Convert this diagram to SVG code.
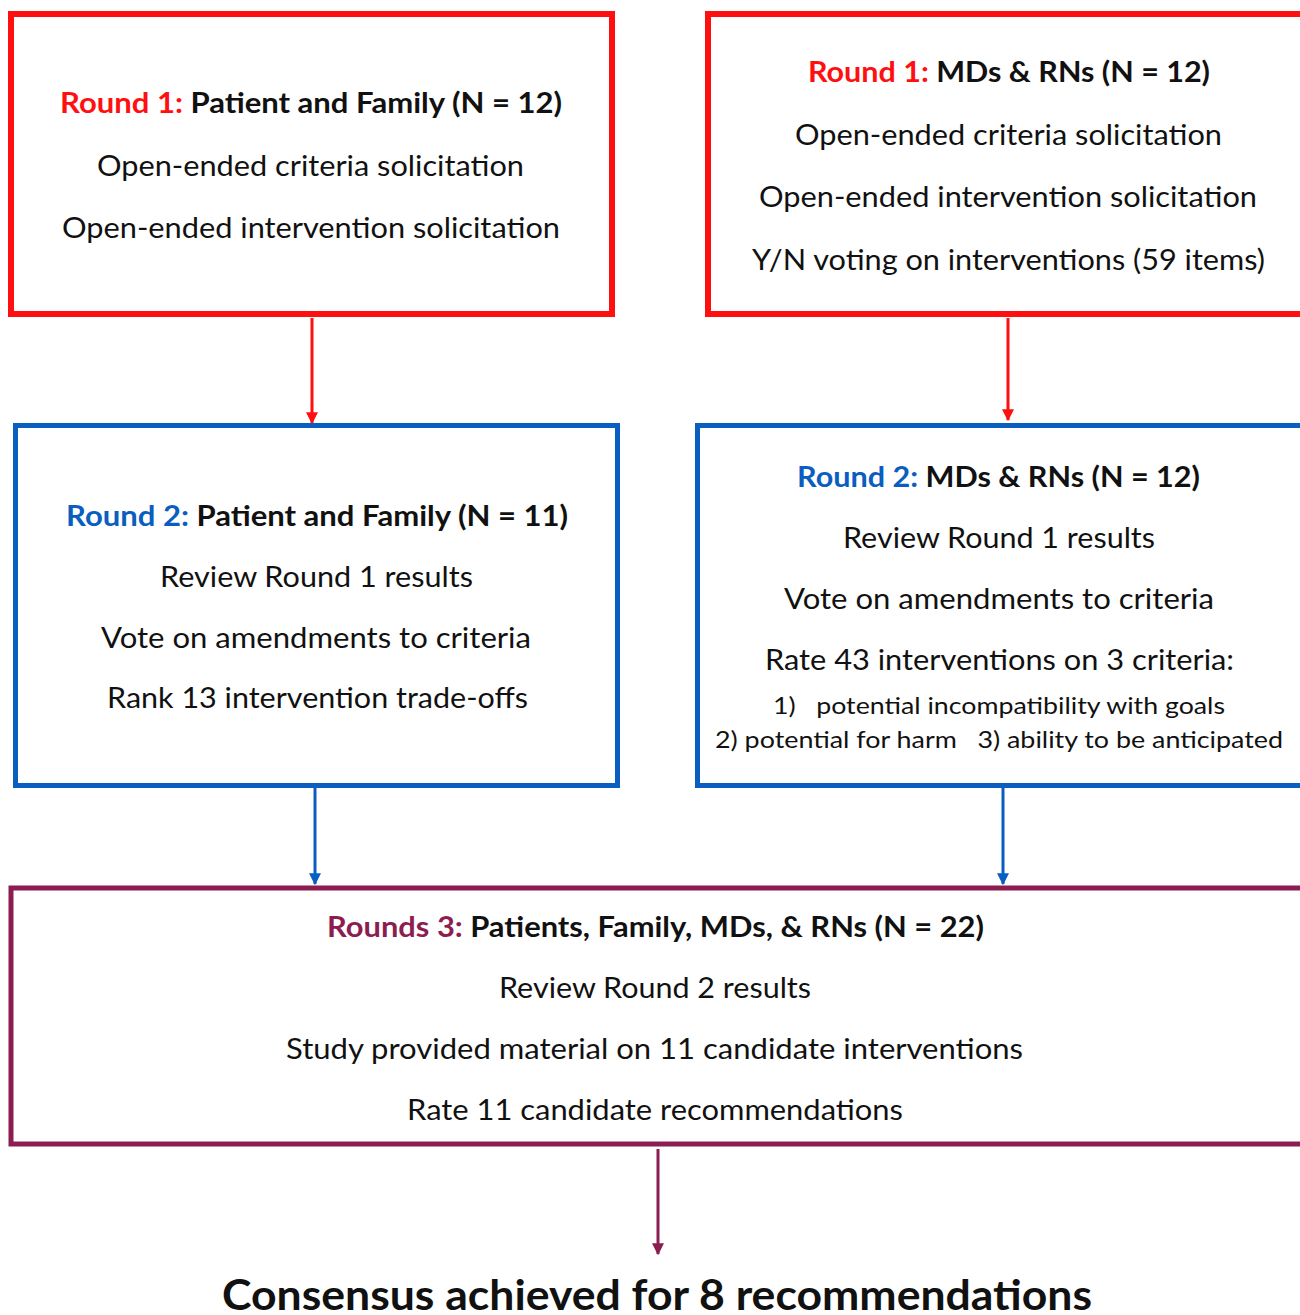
<svg xmlns="http://www.w3.org/2000/svg" width="1300" height="1315" viewBox="0 0 1300 1315">
<defs>
<style>
.t{font-family:Lato,"Open Sans","Liberation Sans",sans-serif;font-size:29px;fill:#111;text-anchor:middle}
.s{font-size:24px}
.b{font-weight:bold}
.red{fill:#FF1010}
.blu{fill:#0A5EC0}
.pur{fill:#8C1D50}
.box{fill:#fff}
</style>
<marker id="ar" viewBox="0 0 10 10" refX="9" refY="5" markerWidth="12" markerHeight="12" markerUnits="userSpaceOnUse" orient="auto"><path d="M0,0L10,5L0,10z" fill="#FF1010"/></marker>
<marker id="ab" viewBox="0 0 10 10" refX="9" refY="5" markerWidth="12" markerHeight="12" markerUnits="userSpaceOnUse" orient="auto"><path d="M0,0L10,5L0,10z" fill="#0A5EC0"/></marker>
<marker id="ap" viewBox="0 0 10 10" refX="9" refY="5" markerWidth="12" markerHeight="12" markerUnits="userSpaceOnUse" orient="auto"><path d="M0,0L10,5L0,10z" fill="#8C1D50"/></marker>
</defs>
<rect width="1300" height="1315" fill="#fff"/>
<g id="connectors">
<line x1="312" y1="318" x2="312" y2="423" stroke="#FF1010" stroke-width="3" marker-end="url(#ar)"/>
<line x1="1008" y1="318" x2="1008" y2="420" stroke="#FF1010" stroke-width="3" marker-end="url(#ar)"/>
<line x1="315" y1="788" x2="315" y2="884" stroke="#0A5EC0" stroke-width="3" marker-end="url(#ab)"/>
<line x1="1003" y1="788" x2="1003" y2="884" stroke="#0A5EC0" stroke-width="3" marker-end="url(#ab)"/>
<line x1="658" y1="1149" x2="658" y2="1254" stroke="#8C1D50" stroke-width="3" marker-end="url(#ap)"/>
</g>
<g id="r1pf">
<rect class="box" x="11" y="14" width="601" height="300" stroke="#FF1010" stroke-width="6"/>
<text class="t b" x="311" y="113" textLength="502" lengthAdjust="spacingAndGlyphs"><tspan class="red">Round 1:</tspan> Patient and Family (N = 12)</text>
<text class="t" x="310.5" y="176" textLength="427" lengthAdjust="spacingAndGlyphs">Open-ended criteria solicitation</text>
<text class="t" x="311" y="238" textLength="498" lengthAdjust="spacingAndGlyphs">Open-ended intervention solicitation</text>
</g>
<g id="r1md">
<rect class="box" x="708" y="14" width="620" height="300" stroke="#FF1010" stroke-width="6"/>
<text class="t b" x="1009" y="82" textLength="402" lengthAdjust="spacingAndGlyphs"><tspan class="red">Round 1:</tspan> MDs &amp; RNs (N = 12)</text>
<text class="t" x="1008.5" y="145" textLength="427" lengthAdjust="spacingAndGlyphs">Open-ended criteria solicitation</text>
<text class="t" x="1008" y="207" textLength="498" lengthAdjust="spacingAndGlyphs">Open-ended intervention solicitation</text>
<text class="t" x="1008.5" y="270" textLength="513" lengthAdjust="spacingAndGlyphs">Y/N voting on interventions (59 items)</text>
</g>
<g id="r2pf">
<rect class="box" x="15.5" y="425.5" width="602" height="360" stroke="#0A5EC0" stroke-width="5"/>
<text class="t b" x="317" y="526" textLength="502" lengthAdjust="spacingAndGlyphs"><tspan class="blu">Round 2:</tspan> Patient and Family (N = 11)</text>
<text class="t" x="316.5" y="587" textLength="313" lengthAdjust="spacingAndGlyphs">Review Round 1 results</text>
<text class="t" x="316" y="648" textLength="430" lengthAdjust="spacingAndGlyphs">Vote on amendments to criteria</text>
<text class="t" x="317.5" y="708" textLength="421" lengthAdjust="spacingAndGlyphs">Rank 13 intervention trade-offs</text>
</g>
<g id="r2md">
<rect class="box" x="697.5" y="425.5" width="630" height="360" stroke="#0A5EC0" stroke-width="5"/>
<text class="t b" x="998.5" y="487" textLength="403" lengthAdjust="spacingAndGlyphs"><tspan class="blu">Round 2:</tspan> MDs &amp; RNs (N = 12)</text>
<text class="t" x="999" y="548" textLength="312" lengthAdjust="spacingAndGlyphs">Review Round 1 results</text>
<text class="t" x="999" y="609" textLength="430" lengthAdjust="spacingAndGlyphs">Vote on amendments to criteria</text>
<text class="t" x="999.5" y="670" textLength="469" lengthAdjust="spacingAndGlyphs">Rate 43 interventions on 3 criteria:</text>
<text class="t s" x="999" y="714" textLength="452" lengthAdjust="spacingAndGlyphs" xml:space="preserve">1)   potential incompatibility with goals</text>
<text class="t s" x="999" y="748" textLength="568" lengthAdjust="spacingAndGlyphs" xml:space="preserve">2) potential for harm   3) ability to be anticipated</text>
</g>
<g id="r3">
<rect class="box" x="11" y="888" width="1320" height="256" stroke="#8C1D50" stroke-width="5"/>
<text class="t b" x="655.5" y="937" textLength="657" lengthAdjust="spacingAndGlyphs"><tspan class="pur">Rounds 3:</tspan> Patients, Family, MDs, &amp; RNs (N = 22)</text>
<text class="t" x="655" y="998" textLength="312" lengthAdjust="spacingAndGlyphs">Review Round 2 results</text>
<text class="t" x="654.5" y="1059" textLength="737" lengthAdjust="spacingAndGlyphs">Study provided material on 11 candidate interventions</text>
<text class="t" x="655" y="1120" textLength="496" lengthAdjust="spacingAndGlyphs">Rate 11 candidate recommendations</text>
</g>
<g id="consensus">
<text class="t b" x="657" y="1310" style="font-size:42px" textLength="870" lengthAdjust="spacingAndGlyphs">Consensus achieved for 8 recommendations</text>
</g>
</svg>
